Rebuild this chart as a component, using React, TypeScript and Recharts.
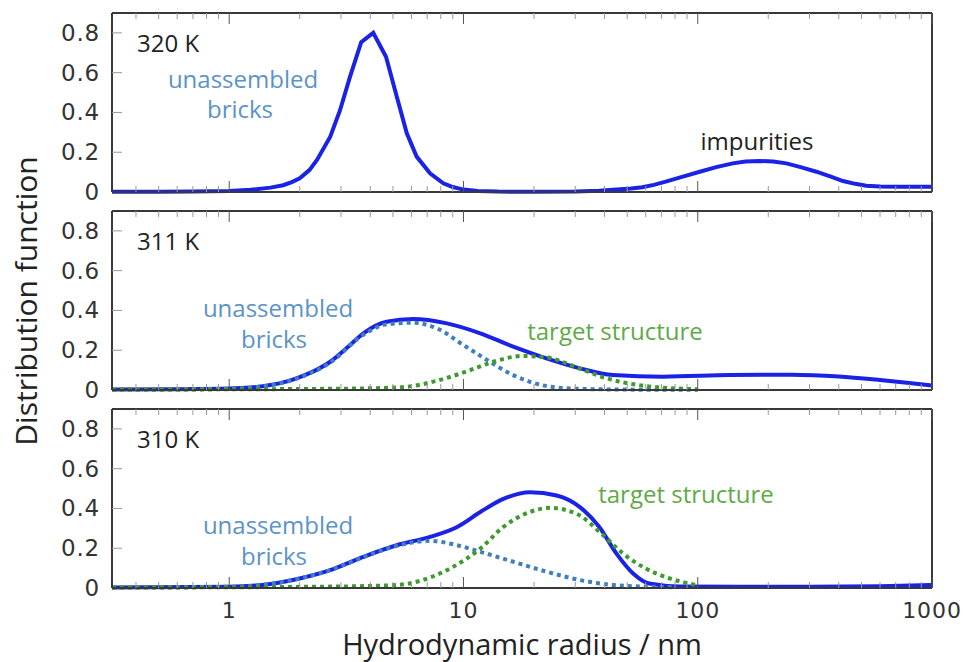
import React from "react";
import { LineChart, Line, XAxis, YAxis } from "recharts";

// ---- Measured size distributions (radius in nm, distribution value) ----

// 320 K
const r320 = [0.316, 0.5, 0.7, 1.0, 1.23, 1.5, 1.7, 1.85, 2.0, 2.2, 2.37, 2.7, 2.97, 3.28, 3.66, 4.12, 4.67, 5.19, 5.73, 6.31, 7.2, 8.2, 9.0, 10, 11.5, 14, 20, 30, 38, 45, 52, 58, 65, 73, 85, 102, 120, 141, 160, 184, 210, 239, 275, 321, 370, 417, 470, 524, 600, 725, 850, 1000];
const total320 = [0.001, 0.001, 0.002, 0.005, 0.011, 0.022, 0.034, 0.05, 0.069, 0.11, 0.161, 0.278, 0.41, 0.58, 0.753, 0.8, 0.68, 0.48, 0.295, 0.178, 0.094, 0.044, 0.025, 0.012, 0.005, 0.002, 0.001, 0.002, 0.006, 0.012, 0.018, 0.024, 0.036, 0.052, 0.075, 0.102, 0.125, 0.144, 0.153, 0.156, 0.153, 0.144, 0.125, 0.102, 0.077, 0.055, 0.041, 0.032, 0.028, 0.026, 0.026, 0.026];

// 311 K
const r311 = [0.316, 0.6, 1.0, 1.23, 1.5, 1.75, 2.0, 2.3, 2.7, 3.2, 3.74, 4.7, 6.1, 8.5, 11.8, 16.3, 22.6, 31.4, 43.5, 71, 137, 250, 400, 600, 800, 1000];
const total311 = [0.003, 0.004, 0.007, 0.012, 0.025, 0.042, 0.065, 0.095, 0.142, 0.215, 0.285, 0.343, 0.357, 0.335, 0.285, 0.218, 0.159, 0.109, 0.075, 0.067, 0.075, 0.077, 0.068, 0.05, 0.035, 0.022];
const rBricks311 = [0.316, 1.0, 1.5, 2.0, 2.7, 3.74, 4.7, 6.1, 7.7, 10, 12.6, 16.3, 22.6, 31, 50, 100];
const bricks311 = [0.002, 0.006, 0.024, 0.063, 0.138, 0.278, 0.33, 0.338, 0.31, 0.226, 0.151, 0.075, 0.02, 0.006, 0.002, 0.001];
const rTarget311 = [0.316, 2.7, 4.5, 5.7, 7.9, 10.7, 13.4, 18, 22.6, 30.4, 40.8, 60, 80, 100];
const target311 = [0.002, 0.006, 0.01, 0.016, 0.05, 0.1, 0.142, 0.171, 0.164, 0.114, 0.059, 0.02, 0.008, 0.004];

// 310 K
const r310 = [0.316, 1.0, 1.5, 2.0, 2.7, 3.74, 5.19, 7.2, 9.4, 11.8, 14.8, 19.2, 25, 31.4, 38, 45, 53, 62, 84, 150, 300, 600, 1000];
const total310 = [0.003, 0.006, 0.02, 0.048, 0.09, 0.157, 0.215, 0.257, 0.307, 0.382, 0.448, 0.482, 0.465, 0.407, 0.307, 0.173, 0.073, 0.023, 0.008, 0.006, 0.006, 0.009, 0.015];
const rBricks310 = [0.316, 1.0, 1.5, 2.0, 2.7, 3.74, 5.19, 7.2, 9.4, 11.8, 16.3, 22.6, 31.4, 43.5, 60, 80];
const bricks310 = [0.003, 0.006, 0.02, 0.048, 0.09, 0.155, 0.212, 0.237, 0.215, 0.182, 0.132, 0.082, 0.04, 0.015, 0.007, 0.004];
const rTarget310 = [0.316, 2.7, 5.19, 6.7, 8.76, 11.8, 14.8, 19.2, 23.4, 30.4, 39.5, 48, 60, 76, 98];
const target310 = [0.002, 0.007, 0.015, 0.04, 0.098, 0.198, 0.307, 0.382, 0.403, 0.373, 0.265, 0.173, 0.098, 0.048, 0.015];

// ---- Axis ticks ----
const majorX = [1, 10, 100, 1000];
const minorX = [0.4, 0.5, 0.6, 0.7, 0.8, 0.9, 2, 3, 4, 5, 6, 7, 8, 9, 20, 30, 40, 50, 60, 70, 80, 90, 200, 300, 400, 500, 600, 700, 800, 900];
const yTicks = [0, 0.2, 0.4, 0.6, 0.8];
const yTickLabels = ["0", "0.2", "0.4", "0.6", "0.8"];

const W = 963;
const H = 662;
const PLOT_LEFT = 112;
const PLOT_RIGHT = 932;
const FRAME = "#383838";
const SOLID = "#1a22e6";
const BRICK_LINE = "#3f7fbf";
const TARGET_LINE = "#3f9a2e";
const BRICK_TEXT = "#5b93c9";
const TARGET_TEXT = "#5faa48";
const TICK_FONT = "'DejaVu Sans', sans-serif";
const TEXT_FONT = "'Open Sans', sans-serif";

const zip = (xs: number[], ys: number[]) => xs.map((r, i) => ({ r, v: ys[i] }));

const allXTicks = [...minorX, ...majorX].sort((a, b) => a - b);

function BottomTick(props: any) {
  const { x, y, payload, showLabel } = props;
  const major = majorX.includes(payload.value);
  return (
    <g>
      <line x1={x} x2={x} y1={y} y2={y - (major ? 11 : 6)} stroke={major ? "#555" : "#999"} strokeWidth={1} />
      {showLabel && major ? (
        <text x={x} y={y + 22} textAnchor="middle" dominantBaseline="central" fontFamily={TICK_FONT} fontSize={22} letterSpacing={0.9} fill="#333">
          {payload.value}
        </text>
      ) : null}
    </g>
  );
}

function TopTick(props: any) {
  const { x, y, payload } = props;
  const major = majorX.includes(payload.value);
  return <line x1={x} x2={x} y1={y} y2={y + (major ? 11 : 6)} stroke={major ? "#555" : "#999"} strokeWidth={1} />;
}

function LeftTick(props: any) {
  const { x, y, payload } = props;
  const idx = yTicks.indexOf(payload.value);
  return (
    <g>
      {payload.value > 0 ? <line x1={x} x2={x + 10} y1={y} y2={y} stroke="#999" strokeWidth={1} /> : null}
      <text x={x - 12} y={y} textAnchor="end" dominantBaseline="central" fontFamily={TICK_FONT} fontSize={23} letterSpacing={0.8} fill="#333">
        {yTickLabels[idx]}
      </text>
    </g>
  );
}

function RightTick(props: any) {
  const { x, y, payload } = props;
  if (payload.value <= 0) return <g />;
  return <line x1={x} x2={x - 10} y1={y} y2={y} stroke="#999" strokeWidth={1} />;
}

type Series = { data: { r: number; v: number }[]; color: string; dotted?: boolean; curve: "linear" | "monotone" };

function Panel({ top, bottom, series, showLabels }: { top: number; bottom: number; series: Series[]; showLabels: boolean }) {
  return (
    <div style={{ position: "absolute", left: 0, top: 0 }}>
      <LineChart width={W} height={H} margin={{ top: 0, right: 0, bottom: 0, left: 0 }}>
        <XAxis
          xAxisId="b"
          dataKey="r"
          type="number"
          scale="log"
          domain={[0.316, 1000]}
          allowDataOverflow
          ticks={allXTicks}
          interval={0}
          orientation="bottom"
          height={H - bottom}
          tickSize={0}
          tickMargin={0}
          tickLine={false}
          axisLine={{ stroke: FRAME, strokeWidth: 2 }}
          tick={(p: any) => <BottomTick {...p} showLabel={showLabels} />}
        />
        <XAxis
          xAxisId="t"
          dataKey="r"
          type="number"
          scale="log"
          domain={[0.316, 1000]}
          allowDataOverflow
          ticks={allXTicks}
          interval={0}
          orientation="top"
          height={top}
          tickSize={0}
          tickMargin={0}
          tickLine={false}
          axisLine={{ stroke: FRAME, strokeWidth: 2 }}
          tick={(p: any) => <TopTick {...p} />}
        />
        <YAxis
          yAxisId="l"
          type="number"
          domain={[0, 0.9]}
          ticks={yTicks}
          interval={0}
          width={PLOT_LEFT}
          tickSize={0}
          tickMargin={0}
          tickLine={false}
          axisLine={{ stroke: FRAME, strokeWidth: 2 }}
          tick={(p: any) => <LeftTick {...p} />}
        />
        <YAxis
          yAxisId="r"
          orientation="right"
          type="number"
          domain={[0, 0.9]}
          ticks={yTicks}
          interval={0}
          width={W - PLOT_RIGHT}
          tickSize={0}
          tickMargin={0}
          tickLine={false}
          axisLine={{ stroke: FRAME, strokeWidth: 2 }}
          tick={(p: any) => <RightTick {...p} />}
        />
        {series.map((s, i) => (
          <Line
            key={i}
            xAxisId="b"
            yAxisId="l"
            data={s.data}
            dataKey="v"
            type={s.curve}
            stroke={s.color}
            strokeWidth={4}
            strokeDasharray={s.dotted ? "4 4" : undefined}
            dot={false}
            activeDot={false}
            isAnimationActive={false}
          />
        ))}
      </LineChart>
    </div>
  );
}

export default function App() {
  const txt = { fontFamily: TEXT_FONT, fontSize: 24 } as const;
  return (
    <div style={{ position: "absolute", left: 0, top: 0, width: W, height: H, background: "#fff" }}>
      <Panel top={13} bottom={192} showLabels={false} series={[{ data: zip(r320, total320), color: SOLID, curve: "linear" }]} />
      <Panel
        top={211}
        bottom={390}
        showLabels={false}
        series={[
          { data: zip(r311, total311), color: SOLID, curve: "monotone" },
          { data: zip(rBricks311, bricks311), color: BRICK_LINE, dotted: true, curve: "monotone" },
          { data: zip(rTarget311, target311), color: TARGET_LINE, dotted: true, curve: "monotone" },
        ]}
      />
      <Panel
        top={409}
        bottom={588}
        showLabels={true}
        series={[
          { data: zip(r310, total310), color: SOLID, curve: "monotone" },
          { data: zip(rBricks310, bricks310), color: BRICK_LINE, dotted: true, curve: "monotone" },
          { data: zip(rTarget310, target310), color: TARGET_LINE, dotted: true, curve: "monotone" },
        ]}
      />
      <svg width={W} height={H} style={{ position: "absolute", left: 0, top: 0, pointerEvents: "none" }}>
        {/* temperature labels */}
        <text x={137} y={52} fill="#222" {...txt}>320 K</text>
        <text x={137} y={250} fill="#222" {...txt}>311 K</text>
        <text x={137} y={448} fill="#222" {...txt}>310 K</text>

        {/* 320 K annotations */}
        <text x={243} y={88} textAnchor="middle" fill={BRICK_TEXT} {...txt}>unassembled</text>
        <text x={240} y={118} textAnchor="middle" fill={BRICK_TEXT} {...txt}>bricks</text>
        <text x={757} y={150} textAnchor="middle" fill="#222" {...txt}>impurities</text>

        {/* 311 K annotations */}
        <text x={278} y={317} textAnchor="middle" fill={BRICK_TEXT} {...txt}>unassembled</text>
        <text x={274} y={348} textAnchor="middle" fill={BRICK_TEXT} {...txt}>bricks</text>
        <text x={615} y={340} textAnchor="middle" fill={TARGET_TEXT} {...txt}>target structure</text>

        {/* 310 K annotations */}
        <text x={278} y={534} textAnchor="middle" fill={BRICK_TEXT} {...txt}>unassembled</text>
        <text x={274} y={565} textAnchor="middle" fill={BRICK_TEXT} {...txt}>bricks</text>
        <text x={686} y={503} textAnchor="middle" fill={TARGET_TEXT} {...txt}>target structure</text>

        {/* axis titles */}
        <text x={522} y={655} textAnchor="middle" fill="#222" fontFamily={TEXT_FONT} fontSize={29}>
          Hydrodynamic radius / nm
        </text>
        <text x={37} y={301} textAnchor="middle" fill="#222" fontFamily={TEXT_FONT} fontSize={30} transform="rotate(-90, 37, 301)">
          Distribution function
        </text>
      </svg>
    </div>
  );
}
